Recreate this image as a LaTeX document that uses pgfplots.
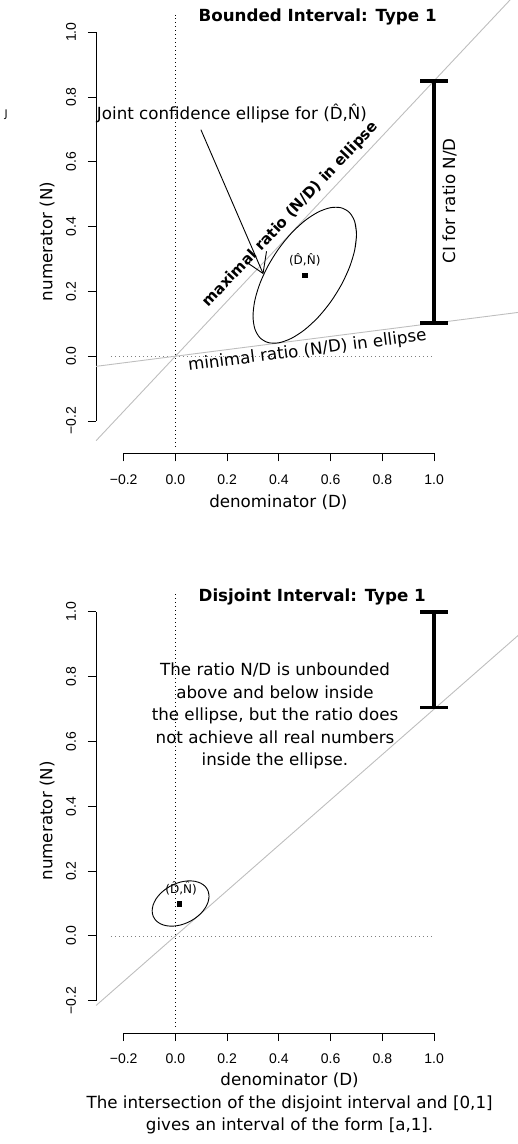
\documentclass[border=0pt]{standalone}
\usepackage{fontspec}
\setmainfont{DejaVu Sans}
\newfontfamily\tickfont{Liberation Sans}
\usepackage{pgfplots}
\pgfplotsset{compat=1.18}
\usetikzlibrary{arrows.meta}
\definecolor{rgray}{RGB}{190,190,190}
\newcommand{\lab}{\fontsize{16.7}{22.5}\selectfont}
\pgfplotsset{
  rpanel/.style={
    scale only axis, width=310.4pt, height=388.8pt,
    xmin=-0.2, xmax=1.0, ymin=-0.2, ymax=1.0,
    axis x line*=bottom, axis y line*=left,
    separate axis lines,
    axis x line shift=32.3pt, axis y line shift=27.7pt,
    axis line style={-, line width=0.9pt},
    x axis line style={-}, y axis line style={-},
    tick align=outside, major tick length=8pt,
    every tick/.style={black, line width=0.9pt},
    xtick={-0.2,0,0.2,0.4,0.6,0.8,1.0},
    ytick={-0.2,0,0.2,0.4,0.6,0.8,1.0},
    xticklabels={−0.2,0.0,0.2,0.4,0.6,0.8,1.0},
    yticklabels={−0.2,0.0,0.2,0.4,0.6,0.8,1.0},
    ticklabel style={font=\tickfont\fontsize{14}{14}\selectfont},
    xticklabel style={anchor=north},
    yticklabel style={rotate=90, anchor=south},
    xticklabel shift=9.5pt, yticklabel shift=8.5pt,
    clip=false,
  },
  dots/.style={line width=0.8pt, dash pattern=on 1pt off 3pt},
}
\begin{document}
\begin{tikzpicture}
\useasboundingbox (0pt,0pt) rectangle (518pt,-1144pt);
\clip (0pt,0pt) rectangle (518pt,-1144pt);

% ---- top panel: bounded interval
\begin{axis}[rpanel, at={(123.7pt,-421pt)}, anchor=south west]
  \addplot[black, dots] coordinates {(0,-0.28) (0,1.054)};
  \addplot[gray, dots] coordinates {(-0.25,0) (0.99,0)};
  \addplot[rgray, line width=0.9pt] coordinates {(-0.3066,-0.2606) (1.35,1.1475)};
  \addplot[rgray, line width=0.9pt] coordinates {(-0.3066,-0.0313) (1.35,0.1377)};
  \addplot[black, line width=0.9pt, smooth] coordinates {
    (0.6932,0.3282) (0.7,0.376) (0.6932,0.4152) (0.6732,0.4431) (0.6414,0.4579)
    (0.6,0.4585) (0.5518,0.4449) (0.5,0.418) (0.4482,0.3797) (0.4,0.3325)
    (0.3586,0.2797) (0.3268,0.2249) (0.3068,0.1718) (0.3,0.124) (0.3068,0.0848)
    (0.3268,0.0569) (0.3586,0.0421) (0.4,0.0415) (0.4482,0.0551) (0.5,0.082)
    (0.5518,0.1203) (0.6,0.1675) (0.6414,0.2203) (0.6732,0.2751) (0.6932,0.3282)
    (0.7,0.376) (0.6932,0.4152)};
  \addplot[only marks, mark=square*, mark size=2.2pt, black] coordinates {(0.5,0.25)};
  \addplot[black, line width=0.9pt, -{Straight Barb[length=19pt,width=24pt]}] coordinates {(0.0985,0.699) (0.340,0.253)};
  % CI bar
  \addplot[black, line width=3.5pt] coordinates {(1,0.103) (1,0.85)};
  \addplot[black, line width=3.5pt] coordinates {(0.946,0.85) (1.053,0.85)};
  \addplot[black, line width=3.5pt] coordinates {(0.946,0.103) (1.053,0.103)};

  \node[font=\fontsize{12}{12}\selectfont] at (axis cs:0.5,0.297) {(D̂,N̂)};
  \node[anchor=west, inner sep=0pt, font=\lab] at (axis cs:-0.304,0.750) {Joint confidence ellipse for (D̂,N̂)};
  \node[rotate=46.75, font=\bfseries\fontsize{15}{15}\selectfont] at (axis cs:0.445,0.437) {maximal ratio (N/D) in ellipse};
  \node[rotate=7.27, font=\lab] at (axis cs:0.51,0.016) {minimal ratio (N/D) in ellipse};
  \node[rotate=90, font=\lab] at (axis cs:1.060,0.480) {CI for ratio N/D};
  \node[anchor=west, inner sep=0pt, font=\bfseries\fontsize{16.7}{16.7}\selectfont] at (axis cs:0.089,1.047) {Bounded Interval: Type 1};
  \node[font=\fontsize{10.5}{10.5}\selectfont] at (axis cs:-0.654,0.745) {J};
  \node[rotate=90, font=\lab] at (axis cs:-0.496,0.354) {numerator (N)};
  \node[font=\lab] at (axis cs:0.398,-0.450) {denominator (D)};
\end{axis}

% ---- bottom panel: disjoint interval
\begin{axis}[rpanel, at={(123.7pt,-1000.7pt)}, anchor=south west]
  \addplot[black, dots] coordinates {(0,-0.28) (0,1.054)};
  \addplot[gray, dots] coordinates {(-0.25,0) (0.99,0)};
  \addplot[rgray, line width=0.9pt] coordinates {(-0.3066,-0.2146) (1.35,0.945)};
  \addplot[black, line width=0.9pt, smooth] coordinates {
    (0.1262,0.1045) (0.13,0.1224) (0.1262,0.1388) (0.1153,0.1526) (0.0978,0.1627)
    (0.075,0.1686) (0.0485,0.1698) (0.02,0.1663) (-0.0085,0.1582) (-0.035,0.1462)
    (-0.0578,0.1310) (-0.0753,0.1138) (-0.0862,0.0955) (-0.09,0.0776) (-0.0862,0.0612)
    (-0.0753,0.0474) (-0.0578,0.0373) (-0.035,0.0314) (-0.0085,0.0302) (0.02,0.0337)
    (0.0485,0.0418) (0.075,0.0538) (0.0978,0.0690) (0.1153,0.0863) (0.1262,0.1045)
    (0.13,0.1224) (0.1262,0.1388)};
  \addplot[only marks, mark=square*, mark size=2.2pt, black] coordinates {(0.015,0.1)};
  % CI bar
  \addplot[black, line width=3.5pt] coordinates {(1,0.705) (1,1.0)};
  \addplot[black, line width=3.5pt] coordinates {(0.946,1.0) (1.053,1.0)};
  \addplot[black, line width=3.5pt] coordinates {(0.946,0.705) (1.053,0.705)};

  \node[font=\fontsize{12}{12}\selectfont] at (axis cs:0.022,0.147) {(D̂,N̂)};
  \node[anchor=west, inner sep=0pt, font=\bfseries\fontsize{16.7}{16.7}\selectfont] at (axis cs:0.089,1.047) {Disjoint Interval: Type 1};
  \node[align=center, font=\lab] at (axis cs:0.385,0.678) {The ratio N/D is unbounded\\above and below inside\\the ellipse, but the ratio does\\not achieve all real numbers\\inside the ellipse.};
  \node[rotate=90, font=\lab] at (axis cs:-0.496,0.355) {numerator (N)};
  \node[align=center, font=\lab] at (axis cs:0.4414,-0.517) {denominator (D)\\The intersection of the disjoint interval and [0,1]\\gives an interval of the form [a,1].};
\end{axis}
\end{tikzpicture}
\end{document}
